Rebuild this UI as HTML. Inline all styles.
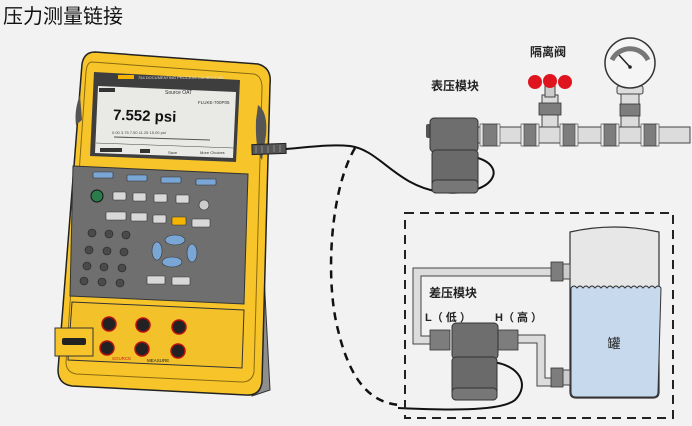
<!DOCTYPE html>
<html><head><meta charset="utf-8"><style>
html,body{margin:0;padding:0;background:#f2f2f2;}
svg{display:block}
text{font-family:"Liberation Sans","Noto Sans CJK SC",sans-serif}
</style></head><body>
<svg width="692" height="426" viewBox="0 0 692 426" xmlns="http://www.w3.org/2000/svg">
<rect width="692" height="426" fill="#f2f2f2"/>
<text x="3" y="23" font-size="20" fill="#111">压力测量链接</text>

<!-- stand -->
<path d="M238,170 L258,160 L270,390 L252,396 L246,300 Z" fill="#8e8e8e" stroke="#333" stroke-width="1"/>
<path d="M244,190 L256,185 L262,380 L252,382 Z" fill="#b0b0b0"/>

<!-- calculator body -->
<path d="M95,52 L258,64 Q272,68 270,84 L262,382 Q260,396 246,395 L72,386 Q58,384 58,370 L82,64 Q84,52 95,52 Z" fill="#f7c52a" stroke="#222" stroke-width="1.5"/>
<path d="M92,62 L254,74 Q262,76 262,88 L254,372 Q252,382 242,382 L76,374 Q66,372 66,362 L86,72 Q87,62 92,62 Z" fill="none" stroke="#8a6a10" stroke-width="1"/>
<path d="M258,105 Q268,112 266,135 L262,160 Q255,150 256,120 Z" fill="#555"/>
<path d="M80,95 Q74,110 76,125 L82,120 Z" fill="#555"/>
<path d="M94,72 L240,80 L236,162 L90,156 Z" fill="#3e3e3e"/>
<path d="M98,86 L236,92 L233,158 L95,153 Z" fill="#e9e9e6"/>
<rect x="118" y="75" width="16" height="4" fill="#f4b400"/>
<text x="138" y="79" font-size="4" fill="#ddd">754 DOCUMENTING PROCESS CALIBRATOR</text>
<rect x="99" y="88" width="16" height="4" fill="#333"/>
<text x="165" y="94" font-size="5" fill="#333">Source OAT</text>
<text x="198" y="104" font-size="4.5" fill="#333">FLUKE-700P05</text>
<text x="113" y="121" font-size="15" font-weight="bold" fill="#111" transform="rotate(2 150 115)">7.552 psi</text>
<text x="112" y="134" font-size="4" fill="#444">0.00   3.75   7.50   11.25  15.00 psi</text>
<line x1="114" y1="137" x2="210" y2="140" stroke="#555" stroke-width="1"/>
<line x1="96" y1="143" x2="234" y2="148" stroke="#444" stroke-width=".5"/>
<rect x="100" y="148" width="22" height="4" fill="#333"/>
<rect x="140" y="149" width="10" height="4" fill="#333"/>
<text x="168" y="154" font-size="4" fill="#333">Save</text>
<text x="200" y="154" font-size="4" fill="#333">More Choices</text>
<path d="M73,166 L248,174 L244,304 L70,296 Z" fill="#6f6f6f" stroke="#333" stroke-width="1"/>
<g fill="#7aa6d6" stroke="#333" stroke-width=".6">
<rect x="93" y="172" width="20" height="6" rx="1"/>
<rect x="127" y="175" width="20" height="6" rx="1"/>
<rect x="161" y="177" width="20" height="6" rx="1"/>
<rect x="196" y="179" width="20" height="6" rx="1"/>
</g>
<circle cx="97" cy="196" r="6" fill="#2a7d4a" stroke="#111"/>
<g fill="#d8d8d8" stroke="#333" stroke-width=".6">
<rect x="113" y="192" width="13" height="8" rx="1"/>
<rect x="133" y="193" width="13" height="8" rx="1"/>
<rect x="154" y="194" width="13" height="8" rx="1"/>
<rect x="176" y="195" width="13" height="8" rx="1"/>
<rect x="106" y="212" width="20" height="8" rx="1"/>
<rect x="131" y="213" width="16" height="8" rx="1"/>
<rect x="153" y="215" width="13" height="8" rx="1"/>
<rect x="192" y="219" width="18" height="8" rx="1"/>
<rect x="147" y="276" width="18" height="8" rx="1"/>
<rect x="172" y="277" width="18" height="8" rx="1"/>
</g>
<rect x="172" y="217" width="14" height="8" rx="1" fill="#f4b400" stroke="#333" stroke-width=".6"/>
<circle cx="204" cy="205" r="5" fill="#ccc" stroke="#333" stroke-width=".6"/>
<g fill="#4a4a4a" stroke="#222" stroke-width=".6">
<circle cx="92" cy="233" r="4"/><circle cx="109" cy="234" r="4"/><circle cx="126" cy="235" r="4"/>
<circle cx="89" cy="250" r="4"/><circle cx="107" cy="251" r="4"/><circle cx="124" cy="252" r="4"/>
<circle cx="87" cy="266" r="4"/><circle cx="104" cy="267" r="4"/><circle cx="122" cy="268" r="4"/>
<circle cx="84" cy="281" r="4"/><circle cx="102" cy="282" r="4"/><circle cx="120" cy="283" r="4"/>
</g>
<g fill="#7aa6d6" stroke="#333" stroke-width=".6">
<ellipse cx="175" cy="240" rx="10" ry="5"/>
<ellipse cx="172" cy="262" rx="10" ry="5"/>
<ellipse cx="157" cy="251" rx="5" ry="9"/>
<ellipse cx="192" cy="253" rx="5" ry="9"/>
</g>
<path d="M72,302 L244,310 L242,368 L68,360 Z" fill="#f3c12a" stroke="#333" stroke-width="1"/>
<rect x="55" y="328" width="38" height="28" fill="#f7c52a" stroke="#333"/>
<rect x="62" y="338" width="24" height="7" rx="2" fill="#222"/>
<g fill="#222" stroke="#b11" stroke-width="1.5">
<circle cx="109" cy="324" r="7"/><circle cx="107" cy="348" r="7"/>
<circle cx="143" cy="325" r="7"/><circle cx="142" cy="349" r="7"/>
<circle cx="179" cy="327" r="7"/><circle cx="178" cy="351" r="7"/>
</g>
<text x="112" y="360" font-size="4.5" fill="#c22">SOURCE</text>
<text x="147" y="362" font-size="4.5" fill="#222">MEASURE</text>

<rect x="252" y="144" width="34" height="10" fill="#555" stroke="#222" transform="rotate(-2 269 149)"/>
<g stroke="#999" stroke-width=".8"><line x1="256" y1="146" x2="256" y2="153"/><line x1="262" y1="146" x2="262" y2="153"/><line x1="268" y1="146" x2="268" y2="153"/><line x1="274" y1="145" x2="274" y2="152"/><line x1="280" y1="145" x2="280" y2="152"/></g>

<path d="M286,149 C310,147 330,144 350,146 C380,150 395,185 440,192 C495,198 510,165 474,157" fill="none" stroke="#111" stroke-width="2"/>
<path d="M355,148 C330,190 325,280 338,330 C350,380 370,403 400,405" fill="none" stroke="#111" stroke-width="2.5" stroke-dasharray="8,6"/>
<path d="M398,408 C440,410 500,412 515,400 C530,385 520,365 492,362" fill="none" stroke="#111" stroke-width="2"/>

<rect x="478" y="127" width="212" height="16" fill="#dcdcdc" stroke="#444"/>
<rect x="542" y="95" width="16" height="32" fill="#dcdcdc" stroke="#444"/>
<rect x="621" y="93" width="18" height="34" fill="#dcdcdc" stroke="#444"/>
<g fill="#7d7d7d" stroke="#333" stroke-width=".8">
<rect x="482" y="124" width="16" height="22"/><rect x="523" y="124" width="14" height="22"/>
<rect x="562" y="124" width="14" height="22"/><rect x="603" y="124" width="14" height="22"/>
<rect x="643" y="124" width="14" height="22"/>
<rect x="539" y="103" width="22" height="12"/><rect x="620" y="104" width="20" height="12"/>
</g>
<g fill="#e8e8e8" stroke="#444" stroke-width=".6">
<rect x="480" y="124" width="3" height="22"/><rect x="497" y="124" width="3" height="22"/>
<rect x="521" y="124" width="3" height="22"/><rect x="536" y="124" width="3" height="22"/>
<rect x="560" y="124" width="3" height="22"/><rect x="575" y="124" width="3" height="22"/>
<rect x="601" y="124" width="3" height="22"/><rect x="616" y="124" width="3" height="22"/>
<rect x="641" y="124" width="3" height="22"/><rect x="656" y="124" width="3" height="22"/>
</g>
<rect x="545" y="85" width="10" height="12" fill="#ccc" stroke="#444"/>
<g fill="#e0141e"><circle cx="535" cy="82" r="7"/><circle cx="550" cy="81" r="7"/><circle cx="565" cy="82" r="7"/></g>
<rect x="617" y="86" width="26" height="8" rx="2" fill="#ddd" stroke="#444"/>
<circle cx="630" cy="63" r="25" fill="#f5f5f5" stroke="#333" stroke-width="1.5"/>
<path d="M612,60 A20,20 0 0 1 648,60" fill="none" stroke="#777" stroke-width="5"/>
<line x1="630" y1="67" x2="619" y2="55" stroke="#222" stroke-width="1.5"/>
<circle cx="630" cy="67" r="1.8" fill="#222"/>
<rect x="426" y="124" width="6" height="14" rx="2" fill="#555"/>
<rect x="430" y="118" width="48" height="34" rx="4" fill="#6e6e6e" stroke="#333"/>
<rect x="432" y="150" width="46" height="43" rx="4" fill="#6a6a6a" stroke="#333"/>
<rect x="432" y="180" width="46" height="13" rx="4" fill="#777" stroke="#333"/>
<text x="455" y="90" font-size="12" font-weight="bold" text-anchor="middle" fill="#222">表压模块</text>
<text x="548" y="56" font-size="12" font-weight="bold" text-anchor="middle" fill="#222">隔离阀</text>

<rect x="405" y="213" width="268" height="205" fill="none" stroke="#222" stroke-width="2" stroke-dasharray="9,6"/>
<path d="M570,232 Q614,222 659,232 L659,392 Q659,398 653,398 L576,398 Q570,398 570,392 Z" fill="#e7e7e7" stroke="#333" stroke-width="1.2"/>
<path d="M571,288 q3,-4 6,0 q3,-4 6,0 q3,-4 6,0 q3,-4 6,0 q3,-4 6,0 q3,-4 6,0 q3,-4 6,0 q3,-4 6,0 q3,-4 6,0 q3,-4 6,0 q3,-4 6,0 q3,-4 6,0 q3,-4 6,0 q3,-4 6,0 q3,-4 6,0 L658,392 Q658,397 653,397 L576,397 Q571,397 571,392 Z" fill="#c7d9ec" stroke="#333" stroke-width="1"/>
<text x="614" y="348" font-size="13" text-anchor="middle" fill="#222">罐</text>
<path d="M552,268 L413,268 L413,344 L432,344 L432,336 L421,336 L421,276 L552,276 Z" fill="#dcdcdc" stroke="#444"/>
<path d="M516,335 L545,335 L545,378 L552,378 L552,386 L537,386 L537,343 L516,343 Z" fill="#dcdcdc" stroke="#444"/>
<g fill="#7d7d7d" stroke="#333" stroke-width=".8">
<rect x="551" y="262" width="12" height="19"/><rect x="551" y="368" width="12" height="19"/>
<rect x="430" y="330" width="20" height="20"/><rect x="498" y="330" width="20" height="20"/>
</g>
<rect x="563" y="264" width="7" height="15" fill="#ccc" stroke="#444"/>
<rect x="563" y="370" width="7" height="15" fill="#ccc" stroke="#444"/>
<rect x="452" y="323" width="46" height="36" rx="4" fill="#6e6e6e" stroke="#333"/>
<rect x="452" y="357" width="45" height="43" rx="4" fill="#6a6a6a" stroke="#333"/>
<rect x="452" y="388" width="45" height="12" rx="4" fill="#777" stroke="#333"/>
<text x="453" y="297" font-size="12" font-weight="bold" text-anchor="middle" fill="#222">差压模块</text>
<text x="425" y="321" font-size="11" font-weight="bold" fill="#222">L（ 低 ）</text>
<text x="495" y="321" font-size="11" font-weight="bold" fill="#222">H（ 高 ）</text>
</svg>
</body></html>
